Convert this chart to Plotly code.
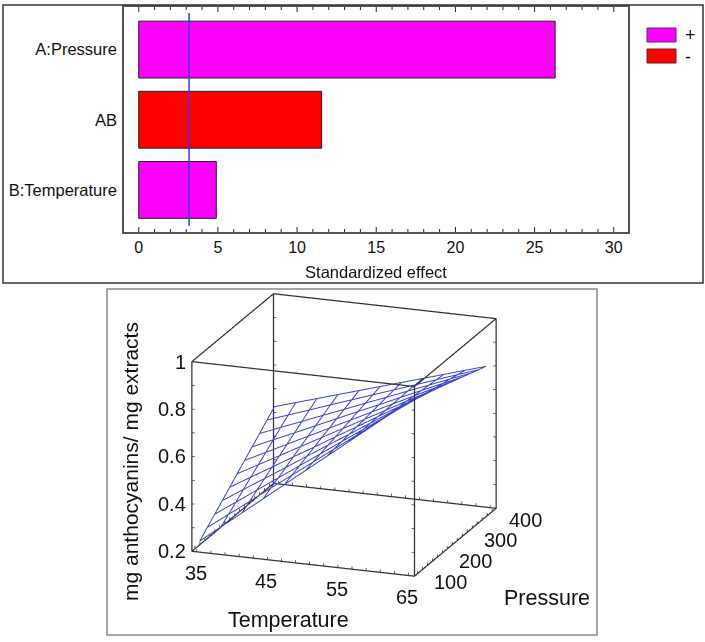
import plotly.graph_objects as go

W, H = 705, 642

# top panel: standardized effects
effect_names = ["A:Pressure", "AB", "B:Temperature"]
plus_effects = [26.3, None, 4.9]
minus_effects = [None, 11.55, None]
critical_effect = 3.18

# bottom panel: response surface, rows are pressure, columns temperature
temperature = [35, 38, 41, 44, 47, 50, 53, 56, 59, 62, 65]
pressure = [100, 130, 160, 190, 220, 250, 280, 310, 340, 370, 400]
anthocyanins = [
    [.235, .305, .374, .444, .513, .583, .652, .722, .791, .861, .930],
    [.266, .331, .396, .462, .527, .592, .657, .722, .788, .853, .918],
    [.296, .357, .418, .479, .540, .601, .662, .723, .784, .845, .906],
    [.327, .384, .440, .497, .554, .611, .667, .724, .781, .838, .894],
    [.357, .410, .462, .515, .567, .620, .672, .725, .777, .830, .882],
    [.388, .436, .484, .533, .581, .629, .677, .725, .774, .822, .870],
    [.418, .462, .506, .550, .594, .638, .682, .726, .770, .814, .858],
    [.449, .489, .528, .568, .608, .648, .687, .727, .767, .806, .846],
    [.479, .515, .550, .586, .621, .657, .692, .728, .763, .799, .834],
    [.510, .541, .572, .604, .635, .666, .697, .728, .760, .791, .822],
    [.540, .567, .594, .621, .648, .675, .702, .729, .756, .783, .810],
]
temp_ticks = [35, 45, 55, 65]
press_ticks = [100, 200, 300, 400]
resp_ticks = [0.2, 0.4, 0.6, 0.8, 1]

temp_range = [34.3, 65.85]
press_range = [88, 416]
resp_range = [0.2, 1.0]

PLUS = "#ff00ff"
MINUS = "#ff0000"


def px_x(x):
    return x / W


def px_y(y):
    return 1 - y / H


def padded(r):
    # the gl lines get clipped into dots when they sit right on the axis bounds
    d = (r[1] - r[0]) * 0.003
    return [r[0] - d, r[1] + d]


fig = go.Figure()

fig.add_trace(go.Bar(x=plus_effects, y=effect_names, orientation="h", name="+", width=0.81,
                     showlegend=False,
                     marker=dict(color=PLUS, line=dict(color="#222222", width=1))))
fig.add_trace(go.Bar(x=minus_effects, y=effect_names, orientation="h", name="-", width=0.81,
                     showlegend=False,
                     marker=dict(color=MINUS, line=dict(color="#222222", width=1))))

# wire mesh of the surface
mx, my, mz = [], [], []
for j, p in enumerate(pressure):
    for i, t in enumerate(temperature):
        mx.append(t)
        my.append(p)
        mz.append(anthocyanins[j][i])
    mx.append(None)
    my.append(None)
    mz.append(None)
for i, t in enumerate(temperature):
    for j, p in enumerate(pressure):
        mx.append(t)
        my.append(p)
        mz.append(anthocyanins[j][i])
    mx.append(None)
    my.append(None)
    mz.append(None)
fig.add_trace(go.Scatter3d(x=mx, y=my, z=mz, mode="lines", showlegend=False, hoverinfo="skip",
                           line=dict(color="#3a45d8", width=2), scene="scene"))

x0, x1 = temp_range
y0, y1 = press_range
z0, z1 = resp_range

# box edges as one unbroken path, some edges walked twice
box_path = [(x0, y0, z0), (x1, y0, z0), (x1, y1, z0), (x0, y1, z0), (x0, y0, z0),
            (x0, y0, z1), (x1, y0, z1), (x1, y1, z1), (x0, y1, z1), (x0, y0, z1),
            (x1, y0, z1), (x1, y0, z0), (x1, y1, z0), (x1, y1, z1), (x0, y1, z1), (x0, y1, z0)]
fig.add_trace(go.Scatter3d(x=[q[0] for q in box_path], y=[q[1] for q in box_path], z=[q[2] for q in box_path],
                           mode="lines", showlegend=False, hoverinfo="skip",
                           line=dict(color="#333333", width=2.5), scene="scene"))

# small ticks on the edges
bx, by, bz = [], [], []


def seg(a, b):
    bx.extend([a[0], b[0], None])
    by.extend([a[1], b[1], None])
    bz.extend([a[2], b[2], None])


for t in range(35, 66, 2):
    for y in (y0, y1):
        for z in (z0, z1):
            seg((t, y, z), (t, y, z + 0.012))
for p in range(100, 401, 20):
    for x in (x0, x1):
        for z in (z0, z1):
            seg((x, p, z), (x, p, z + 0.012))
for r in (0.2, 0.3, 0.4, 0.5, 0.6, 0.7, 0.8, 0.9, 1.0):
    for y in (y0, y1):
        seg((x0, y, r), (x0 + 0.4, y, r))
        seg((x1, y, r), (x1 - 0.4, y, r))
fig.add_trace(go.Scatter3d(x=bx, y=by, z=bz, mode="lines", showlegend=False, hoverinfo="skip",
                           line=dict(color="#333333", width=1.5), scene="scene"))

# tick labels of the cube
tick_font = dict(family="Liberation Sans", size=20, color="#111111")
cube_labels = []
for r in resp_ticks:
    cube_labels.append(dict(x=x0, y=y0, z=r, text=str(r), showarrow=False, xanchor="right",
                            xshift=-4, font=tick_font))
for t in temp_ticks:
    cube_labels.append(dict(x=t, y=y0, z=z0, text=str(t), showarrow=False, xshift=-1, yshift=-21,
                            font=tick_font))
for p in press_ticks:
    cube_labels.append(dict(x=x1, y=p, z=z0, text=str(p), showarrow=False, xshift=33, yshift=-8,
                            font=tick_font))

# effect axis ticks, every unit along the bottom and the top of the frame
effect_ticks = []
for v in range(0, 31):
    size = 5 / 225 if v % 5 == 0 else 3 / 225
    for y_a, y_b in ((0, size), (1, 1 - size)):
        effect_ticks.append(dict(type="line", xref="x", yref="y domain", x0=v, x1=v, y0=y_a, y1=y_b,
                                 line=dict(color="#222222", width=1)))

hidden = dict(visible=False, autorange=False)
box_scale = 1.59
fig.update_layout(
    width=W, height=H,
    margin=dict(l=0, r=0, t=0, b=0),
    paper_bgcolor="white", plot_bgcolor="white",
    font=dict(family="Liberation Sans", color="#111111"),
    barmode="overlay",
    showlegend=False,
    xaxis=dict(domain=[px_x(124), px_x(628)], range=[-0.93, 30.9], dtick=5, tick0=0,
               ticks="", showline=True, linecolor="#555555",
               linewidth=1.5, mirror=True, showgrid=False, zeroline=False,
               tickfont=dict(size=16), title=dict(text="Standardized effect", font=dict(size=16.5), standoff=11)),
    yaxis=dict(domain=[px_y(232), px_y(7)], categoryorder="array", categoryarray=effect_names,
               range=[2.6, -0.607], ticks="", showline=True, linecolor="#555555", linewidth=1.5,
               mirror=True, showgrid=False, zeroline=False, tickfont=dict(size=16.5), ticklabelstandoff=2),
    scene=dict(
        domain=dict(x=[px_x(104), px_x(584)], y=[px_y(585), px_y(285)]),
        xaxis=dict(range=padded(temp_range), **hidden),
        yaxis=dict(range=padded(press_range), **hidden),
        zaxis=dict(range=padded(resp_range), **hidden),
        aspectmode="manual", aspectratio=dict(x=box_scale, y=box_scale, z=0.84 * box_scale),
        camera=dict(projection=dict(type="orthographic"), up=dict(x=0, y=0, z=1),
                    center=dict(x=0, y=0, z=0),
                    eye=dict(x=0.328 * 2, y=-0.894 * 2, z=0.305 * 2)),
        annotations=cube_labels,
    ),
    shapes=effect_ticks + [
        dict(type="line", xref="x", yref="y domain", x0=critical_effect, x1=critical_effect,
             y0=0.027, y1=0.973, line=dict(color="#3a3ae0", width=1.5)),
        dict(type="rect", xref="paper", yref="paper", x0=px_x(3), x1=px_x(703), y0=px_y(283), y1=px_y(5),
             line=dict(color="#333333", width=1.5)),
        dict(type="rect", xref="paper", yref="paper", x0=px_x(107), x1=px_x(597), y0=px_y(635), y1=px_y(289),
             line=dict(color="#888888", width=1.5)),
        # legend swatches
        dict(type="rect", xref="paper", yref="paper", x0=px_x(647), x1=px_x(676), y0=px_y(42), y1=px_y(28),
             fillcolor=PLUS, line=dict(color="#662266", width=1)),
        dict(type="rect", xref="paper", yref="paper", x0=px_x(647), x1=px_x(676), y0=px_y(63), y1=px_y(49),
             fillcolor=MINUS, line=dict(color="#662222", width=1)),
    ],
    annotations=[
        dict(xref="paper", yref="paper", x=px_x(130), y=px_y(462), text="mg anthocyanins/ mg extracts",
             textangle=-90, showarrow=False, xanchor="center", yanchor="middle", font=dict(size=21)),
        dict(xref="paper", yref="paper", x=px_x(288), y=px_y(620), text="Temperature",
             showarrow=False, xanchor="center", yanchor="middle", font=dict(size=21.5)),
        dict(xref="paper", yref="paper", x=px_x(547), y=px_y(598), text="Pressure",
             showarrow=False, xanchor="center", yanchor="middle", font=dict(size=21.5)),
        dict(xref="paper", yref="paper", x=px_x(690), y=px_y(35), text="+",
             showarrow=False, xanchor="center", yanchor="middle", font=dict(size=18)),
        dict(xref="paper", yref="paper", x=px_x(688), y=px_y(57), text="-",
             showarrow=False, xanchor="center", yanchor="middle", font=dict(size=18)),
    ],
)

fig.write_html("out.html", config=dict(displayModeBar=False), post_script="document.body.style.margin='0';")
